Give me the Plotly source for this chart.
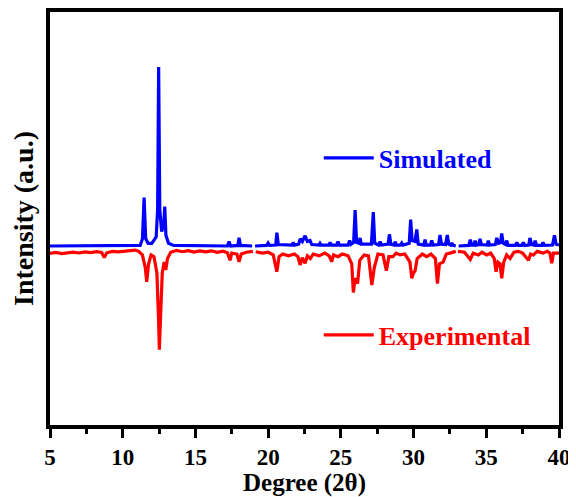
import plotly.graph_objects as go

# Simulated pattern (blue); baseline at 0, strongest peak = 100
sim_x = [5.0, 11.2, 11.36, 11.47, 11.58, 11.75, 12.0, 12.3, 12.4, 12.47, 12.55, 12.68, 12.82, 12.89,
         12.97, 13.15, 13.5, 17.2, 17.31, 17.42, 17.92, 18.0, 18.1, 18.9, None, 19.1, 19.9, 20.0,
         20.1, 20.52, 20.6, 20.7, 21.1, 21.65, 21.73, 21.82, 22.1, 22.2, 22.35, 22.54, 22.7, 22.88,
         23.0, 23.5, 23.57, 23.65, 24.18, 24.26, 24.35, 24.72, 24.8, 24.9, 25.5, 25.6, 25.7, 25.88,
         25.98, 26.08, 26.25, 26.32, 26.4, 27.1, 27.23, 27.33, 27.6, 27.7, 27.8, 28.25, 28.34, 28.44,
         28.65, 28.73, 28.82, 29.1, 29.19, 29.28, 29.7, 29.8, 29.9, 30.1, 30.22, 30.32, 30.7, 30.79,
         30.88, 31.15, 31.25, 31.35, 31.72, 31.82, 31.92, 32.2, 32.32, 32.42, 32.55, 32.63, 32.72,
         32.9, None, 33.1, 33.8, 33.9, 34.0, 34.15, 34.23, 34.32, 34.48, 34.57, 34.66, 35.05, 35.14,
         35.23, 35.62, 35.72, 35.85, 35.98, 36.06, 36.16, 36.32, 36.41, 36.5, 37.0, 37.1, 37.2, 37.45,
         37.55, 37.65, 37.92, 38.0, 38.12, 38.28, 38.36, 38.45, 38.82, 38.9, 39.0, 39.55, 39.69, 39.8,
         40.0]
sim_y = [0, 0.3, 4, 27, 4, 1.5, 1.5, 5, 20, 100, 20, 8, 12, 22,
         6, 1.5, 0.3, 0, 2.4, 0, 0.3, 4.6, 0.3, 0, None, 0, 0.3, 1.6,
         0.3, 0.5, 7.4, 0.8, 0.5, 0.5, 2, 0.5, 1, 4, 2.5, 5.7, 2.5, 3,
         0.8, 0.5, 1.5, 0.5, 0.5, 2, 0.5, 0.5, 2.5, 0.5, 0.5, 3, 1, 2,
         20, 2, 1.5, 4.5, 1, 1, 19, 1.5, 0.5, 2.4, 0.5, 1, 6.5, 1,
         0.5, 2.4, 0.5, 0.5, 1.7, 0.5, 1.5, 14.7, 3, 2.5, 9.2, 1, 0.5, 3.5,
         0.5, 0.5, 3, 0.5, 0.8, 6.1, 1, 0.8, 6.1, 1, 0.5, 1.7, 0.3,
         0, None, 0, 0.3, 3.5, 0.5, 0.5, 3, 0.5, 0.8, 4, 0.8, 0.5, 3,
         0.5, 0.8, 4.5, 1.5, 2, 7, 1.5, 0.8, 3, 0.3, 0.3, 2, 0.3, 0.3,
         2, 0.3, 0.5, 4.5, 0.8, 0.5, 3, 0.3, 0.3, 2, 0.3, 0.5, 6, 1,
         0.5]

# Experimental pattern (red), plotted inverted below the simulated one
exp_x = [5.0, 5.4, 5.8, 6.2, 6.6, 7.0, 7.4, 7.8, 8.2, 8.55, 8.73, 8.9, 9.3, 9.7, 10.1, 10.5, 10.85,
         11.1, 11.35, 11.55, 11.65, 11.78, 11.95, 12.15, 12.35, 12.46, 12.52, 12.6, 12.72, 12.85,
         12.96, 13.08, 13.3, 13.7, 14.1, 14.5, 14.9, 15.3, 15.7, 16.1, 16.5, 16.9, 17.2, 17.38, 17.5,
         17.85, 18.0, 18.15, 18.5, 18.95, None, 19.15, 19.6, 20.0, 20.35, 20.6, 20.75, 21.0, 21.4,
         21.8, 22.05, 22.2, 22.35, 22.54, 22.7, 22.9, 23.1, 23.5, 23.9, 24.2, 24.37, 24.5, 24.8, 25.1,
         25.5, 25.75, 25.86, 25.98, 26.15, 26.3, 26.6, 26.9, 27.13, 27.3, 27.55, 27.9, 28.13, 28.3,
         28.57, 28.8, 29.07, 29.4, 29.75, 29.88, 30.0, 30.1, 30.25, 30.6, 30.9, 31.2, 31.5, 31.64,
         31.78, 32.03, 32.25, 32.5, 32.9, None, 33.05, 33.5, 33.9, 34.1, 34.46, 34.7, 35.03, 35.3,
         35.55, 35.67, 35.8, 35.95, 36.06, 36.2, 36.4, 36.64, 36.9, 37.2, 37.5, 37.9, 38.05, 38.24,
         38.5, 38.9, 39.2, 39.38, 39.5, 39.62, 40.0]
exp_y = [-4.2, -3.6, -4.3, -3.8, -3.4, -3.9, -3.3, -3.7, -3.2, -3.6, -6.5, -3.8, -3.0, -3.3, -2.8, -2.5, -2.3,
         -3.0, -5, -12, -20, -10, -5, -6, -15, -40, -58, -40, -15, -9,
         -13.4, -7, -3.5, -2.5, -3.2, -2.6, -3.4, -2.8, -3.3, -2.7, -3.5, -2.9, -3.8, -8, -4,
         -4.5, -8.8, -4.5, -3.5, -3, None, -3.2, -4, -3.5, -5, -14.4, -6, -4.5, -5.5,
         -4.5, -6, -10.6, -6.5, -9.7, -5.5, -7, -4.5, -5.5, -4, -5.5, -8.8, -5, -6, -4.5,
         -5.5, -10, -26, -18, -21, -8, -5, -5.5, -21.8, -12, -4.5, -5, -13.8, -6,
         -6, -4, -5, -4.5, -9, -18, -15, -14, -7, -4.5, -6, -4.5, -7, -21,
         -10, -9, -4.5, -4, -3, None, -3, -3.5, -7.5, -4, -5, -3.5, -5, -4,
         -7, -14.4, -9, -10, -18, -9, -5, -7, -3.5, -3, -4, -8, -4.5, -5,
         -3, -4, -3, -4, -9.7, -4, -4]

x_ticks = [5, 10, 15, 20, 25, 30, 35, 40]
series_names = ["Simulated", "Experimental"]
series_colors = ["#0000FF", "#FF0000"]

FONT = "Liberation Serif"

fig = go.Figure()
fig.add_trace(go.Scatter(x=sim_x, y=sim_y, mode="lines", name=series_names[0],
                         line=dict(color=series_colors[0], width=3.2), legend="legend",
                         connectgaps=False))
fig.add_trace(go.Scatter(x=exp_x, y=exp_y, mode="lines", name=series_names[1],
                         line=dict(color=series_colors[1], width=3.2), legend="legend2",
                         connectgaps=False))

# the page body adds an 8px offset, so the figure is 8px smaller and left/top margins shifted
legend_common = dict(xanchor="left", yanchor="middle", bgcolor="rgba(0,0,0,0)",
                     borderwidth=0, itemwidth=50)
fig.update_layout(
    width=568, height=489,
    margin=dict(l=42, r=17, t=4, b=72),
    paper_bgcolor="white", plot_bgcolor="white",
    font=dict(family=FONT, color="black"),
    showlegend=True,
    legend=dict(x=0.528, y=0.6465,
                font=dict(family=FONT, size=26, color=series_colors[0], weight="bold"),
                **legend_common),
    legend2=dict(x=0.528, y=0.218,
                 font=dict(family=FONT, size=26, color=series_colors[1], weight="bold"),
                 **legend_common),
    xaxis=dict(range=[5, 40], tickvals=x_ticks, ticktext=[str(v) for v in x_ticks],
               ticks="outside", ticklen=9, tickwidth=3, tickcolor="black",
               minor=dict(dtick=2.5, ticks="outside", ticklen=5, tickwidth=3, tickcolor="black"),
               showline=True, linewidth=3.5, linecolor="black", mirror=True,
               showgrid=False, zeroline=False,
               tickfont=dict(family=FONT, size=23, color="black", weight="bold"),
               title=dict(text="Degree (2θ)", standoff=14,
                          font=dict(family=FONT, size=25, color="black", weight="bold")),
               automargin=False),
    yaxis=dict(range=[-100, 130.7], showticklabels=False, ticks="",
               showline=True, linewidth=3.5, linecolor="black", mirror=True,
               showgrid=False, zeroline=False,
               title=dict(text="Intensity (a.u.)", standoff=8,
                          font=dict(family=FONT, size=28, color="black", weight="bold")),
               automargin=False),
)

fig.write_html("out.html")
